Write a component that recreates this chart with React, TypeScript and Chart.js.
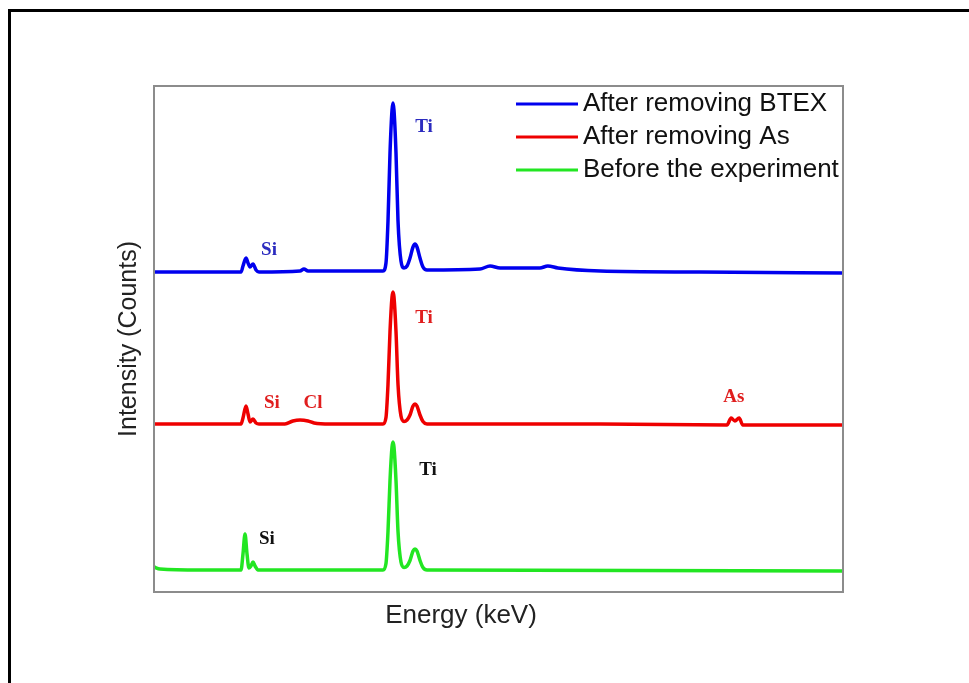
import React, { useEffect, useRef } from "react";
import { Chart, registerables } from "chart.js";

Chart.register(...registerables);

// Energy (keV) and counts (arbitrary, stacked offsets)
const blueEnergy = [0, 0.87, 1.585, 1.642, 1.679, 1.736, 1.774, 1.811, 1.868, 1.925, 1.981, 2.755, 2.83, 2.906, 3.7, 4.26, 4.321, 4.377, 4.415, 4.453, 4.491, 4.509, 4.528, 4.566, 4.604, 4.66, 4.717, 4.774, 4.83, 4.887, 4.925, 4.962, 5.019, 5.075, 5.151, 6.15, 6.34, 6.53, 7.28, 7.43, 7.62, 8.42, 10.3, 13];
const blueCounts = [3200, 3200, 3200, 3200, 3260, 3340, 3290, 3250, 3280, 3220, 3200, 3210, 3230, 3210, 3210, 3210, 3210, 3290, 3710, 4390, 4820, 4890, 4820, 4390, 3710, 3310, 3240, 3260, 3340, 3450, 3480, 3450, 3340, 3250, 3220, 3230, 3260, 3240, 3240, 3260, 3240, 3210, 3200, 3190];

const redEnergy = [0, 1.585, 1.642, 1.679, 1.736, 1.774, 1.811, 1.868, 1.925, 1.981, 2.47, 2.62, 2.755, 2.906, 3.02, 3.32, 4.321, 4.377, 4.415, 4.453, 4.491, 4.509, 4.528, 4.566, 4.604, 4.66, 4.717, 4.774, 4.83, 4.887, 4.925, 4.962, 5.019, 5.075, 5.151, 8.42, 10.81, 10.89, 10.96, 11.04, 11.11, 13];
const redCounts = [1680, 1680, 1680, 1740, 1860, 1780, 1700, 1730, 1690, 1680, 1680, 1710, 1720, 1710, 1690, 1680, 1680, 1745, 2075, 2605, 2950, 3000, 2950, 2605, 2075, 1760, 1705, 1720, 1770, 1860, 1880, 1860, 1770, 1705, 1680, 1680, 1670, 1740, 1710, 1740, 1670, 1670];

const greenEnergy = [0, 0.113, 0.87, 1.642, 1.679, 1.717, 1.755, 1.792, 1.83, 1.868, 1.906, 1.962, 4.321, 4.377, 4.415, 4.453, 4.491, 4.509, 4.528, 4.566, 4.604, 4.66, 4.717, 4.774, 4.83, 4.887, 4.925, 4.962, 5.019, 5.075, 5.151, 13];
const greenCounts = [250, 230, 220, 220, 380, 580, 380, 240, 260, 300, 260, 220, 220, 285, 605, 1115, 1450, 1500, 1450, 1115, 605, 300, 245, 260, 315, 410, 430, 410, 315, 245, 220, 210];

const seriesNames = ["After removing BTEX", "After removing As", "Before the experiment"];
const seriesColors = ["#0000ee", "#ee0000", "#22e622"];

// Peak annotations: text, energy, counts, colour
const peakText = ["Ti", "Si", "Ti", "Si", "Cl", "As", "Ti", "Si"];
const peakEnergy = [5.094, 2.17, 5.094, 2.226, 3.0, 10.94, 5.17, 2.13];
const peakCounts = [4600, 3370, 2690, 1840, 1840, 1900, 1170, 480];
const peakColors = ["#2b2bbf", "#2b2bbf", "#e01e1e", "#e01e1e", "#e01e1e", "#e01e1e", "#111111", "#111111"];

const xTitle = "Energy (keV)";
const yTitle = "Intensity (Counts)";

function toPoints(xs: number[], ys: number[]) {
  return xs.map((x, i) => ({ x, y: ys[i] }));
}

const decorPlugin = {
  id: "decor",
  afterDraw(chart: any) {
    const { ctx, chartArea, scales } = chart;
    const { left, top, right, bottom } = chartArea;
    ctx.save();
    // frame
    ctx.strokeStyle = "#8c8c8c";
    ctx.lineWidth = 2;
    ctx.strokeRect(left, top, right - left, bottom - top);

    // peak labels
    ctx.font = 'bold 19px "Liberation Serif", "Times New Roman", serif';
    ctx.textAlign = "center";
    ctx.textBaseline = "alphabetic";
    peakText.forEach((t, i) => {
      ctx.fillStyle = peakColors[i];
      ctx.fillText(t, scales.x.getPixelForValue(peakEnergy[i]), scales.y.getPixelForValue(peakCounts[i]));
    });

    // legend
    ctx.font = '26px "Liberation Sans", Arial, sans-serif';
    ctx.textAlign = "left";
    ctx.textBaseline = "middle";
    seriesNames.forEach((name, i) => {
      const y = top + 18 + i * 33;
      ctx.strokeStyle = seriesColors[i];
      ctx.lineWidth = 3;
      ctx.beginPath();
      ctx.moveTo(left + 362, y);
      ctx.lineTo(left + 424, y);
      ctx.stroke();
      ctx.fillStyle = "#111";
      ctx.fillText(name, left + 429, y);
    });

    // axis titles
    ctx.fillStyle = "#222";
    ctx.font = '26px "Liberation Sans", Arial, sans-serif';
    ctx.textAlign = "center";
    ctx.textBaseline = "middle";
    ctx.fillText(xTitle, left + 307, bottom + 24);
    ctx.save();
    ctx.translate(left - 25, (top + bottom) / 2);
    ctx.rotate(-Math.PI / 2);
    ctx.font = '25px "Liberation Sans", Arial, sans-serif';
    ctx.fillText(yTitle, 0, 0);
    ctx.restore();
    ctx.restore();
  },
};

export default function App() {
  const canvasRef = useRef<HTMLCanvasElement | null>(null);

  useEffect(() => {
    if (!canvasRef.current) return;
    const mk = (i: number, xs: number[], ys: number[]) => ({
      label: seriesNames[i],
      data: toPoints(xs, ys),
      borderColor: seriesColors[i],
      backgroundColor: seriesColors[i],
      borderWidth: 3.5,
      pointRadius: 0,
      fill: false,
      cubicInterpolationMode: "monotone" as const,
    });
    const chart = new Chart(canvasRef.current, {
      type: "line",
      data: {
        datasets: [
          mk(0, blueEnergy, blueCounts),
          mk(1, redEnergy, redCounts),
          mk(2, greenEnergy, greenCounts),
        ],
      },
      options: {
        animation: false,
        responsive: false,
        maintainAspectRatio: false,
        layout: { padding: { left: 154, top: 86, right: 126, bottom: 91 } },
        scales: {
          x: { type: "linear", min: 0, max: 13, display: false },
          y: { type: "linear", min: 0, max: 5060, display: false },
        },
        plugins: { legend: { display: false }, tooltip: { enabled: false } },
      },
      plugins: [decorPlugin],
    });
    return () => chart.destroy();
  }, []);

  return (
    <div style={{ position: "absolute", left: 0, top: 0, width: 969, height: 683, overflow: "hidden", background: "#fff" }}>
      <div style={{ position: "absolute", left: 8, top: 9, width: 1200, height: 1200, border: "3px solid #000" }} />
      <canvas ref={canvasRef} width={969} height={683} style={{ position: "absolute", left: 0, top: 0 }} />
    </div>
  );
}
